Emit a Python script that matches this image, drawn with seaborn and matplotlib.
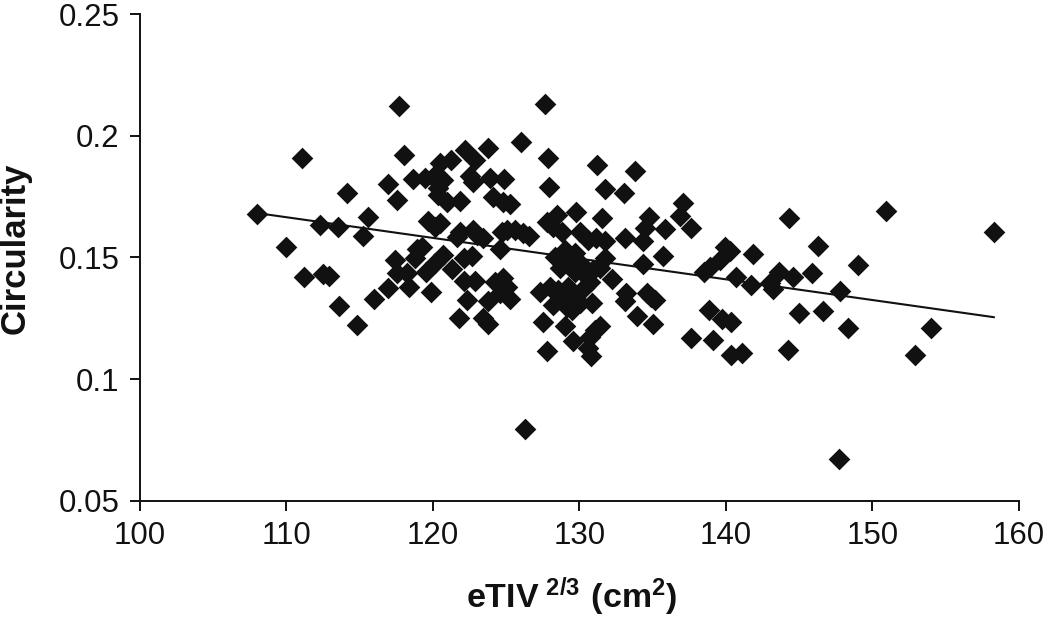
import matplotlib
matplotlib.use("Agg")
import matplotlib.pyplot as plt
import seaborn as sns
import pandas as pd

# values
etiv = [117.69, 111.05, 118.05, 126.05, 114.16, 116.94, 117.53, 118.66, 108.0, 112.28,
        113.5, 115.57, 115.25, 110.0, 111.23, 112.5, 112.93, 113.6, 114.8, 116.0,
        120.48, 121.21, 120.03, 120.71, 120.37, 119.46, 122.19, 123.78, 122.87, 122.53,
        123.9, 124.87, 122.76, 120.37, 120.94, 121.89, 124.12, 124.8, 125.3, 119.64,
        120.48, 120.14, 121.62, 121.85, 122.76, 123.44, 122.99, 124.69, 125.6, 126.58,
        124.58, 125.03, 126.17, 118.89, 119.23, 118.78, 117.41, 120.71, 120.14, 119.57,
        121.28, 122.12, 122.69, 117.53, 118.21, 116.96, 118.37, 119.87, 122.12, 122.87,
        122.3, 124.24, 124.8, 124.58, 125.26, 123.78, 125.03, 121.76, 123.44, 123.78,
        127.63, 127.88, 131.2, 133.77, 127.9, 131.74, 133.02, 137.06, 136.88, 137.59,
        144.32, 128.49, 129.79, 127.76, 128.22, 128.79, 131.52, 130.04, 130.6, 131.17,
        131.74, 133.11, 134.74, 134.47, 134.34, 135.86, 135.72, 134.31, 139.97, 140.27,
        139.59, 138.91, 138.5, 141.82, 140.66, 141.68, 143.0, 143.18, 143.64, 144.55,
        145.0, 144.23, 138.84, 139.75, 140.32, 137.61, 139.09, 140.38, 141.11, 133.9,
        135.04, 133.17, 133.11, 134.59, 135.15, 134.86, 132.22, 128.33, 129.01, 129.7,
        129.13, 128.67, 130.04, 130.27, 129.7, 130.95, 131.74, 131.4, 130.72, 130.38,
        127.31, 127.99, 128.56, 129.24, 128.22, 128.9, 129.47, 130.04, 130.83, 129.7,
        129.13, 127.51, 128.99, 129.54, 127.81, 131.4, 131.06, 130.72, 130.6, 130.77,
        126.31, 150.92, 158.27, 146.3, 145.86, 149.0, 147.77, 146.6, 148.3, 147.7,
        152.9, 154.0]
circ = [0.2121, 0.1908, 0.192, 0.1974, 0.1766, 0.18, 0.1736, 0.182, 0.1677, 0.1634,
        0.1624, 0.1665, 0.1589, 0.1541, 0.142, 0.143, 0.1425, 0.13, 0.122, 0.1328,
        0.1887, 0.1899, 0.1832, 0.1818, 0.1784, 0.1825, 0.1941, 0.1948, 0.19, 0.1835,
        0.1825, 0.1824, 0.1811, 0.1756, 0.1729, 0.1733, 0.175, 0.1729, 0.172, 0.165,
        0.164, 0.1626, 0.1585, 0.1606, 0.1613, 0.1578, 0.1592, 0.1606, 0.1613, 0.1588,
        0.1533, 0.1613, 0.1599, 0.1533, 0.1544, 0.1496, 0.1489, 0.151, 0.1476, 0.1441,
        0.1452, 0.1496, 0.1507, 0.1435, 0.1435, 0.1373, 0.138, 0.1356, 0.1403, 0.1404,
        0.1325, 0.1398, 0.1414, 0.1352, 0.1328, 0.1322, 0.138, 0.1251, 0.125, 0.1225,
        0.2129, 0.1907, 0.1881, 0.1855, 0.1791, 0.178, 0.1763, 0.1722, 0.167, 0.1619,
        0.1662, 0.1674, 0.1688, 0.1647, 0.1626, 0.1606, 0.1661, 0.1606, 0.1572, 0.1578,
        0.1569, 0.1578, 0.1667, 0.1619, 0.1569, 0.1615, 0.1507, 0.1472, 0.1544, 0.1526,
        0.1489, 0.1462, 0.1441, 0.1515, 0.1418, 0.1388, 0.1393, 0.137, 0.144, 0.1418,
        0.1273, 0.1119, 0.1284, 0.1245, 0.1236, 0.117, 0.1161, 0.1099, 0.1108, 0.1261,
        0.1225, 0.1352, 0.1322, 0.1352, 0.1325, 0.1339, 0.141, 0.1503, 0.153, 0.1517,
        0.1489, 0.1455, 0.1476, 0.1434, 0.1441, 0.1448, 0.1496, 0.1455, 0.14, 0.138,
        0.1359, 0.138, 0.1366, 0.138, 0.1304, 0.1332, 0.1284, 0.1311, 0.1311, 0.1339,
        0.1297, 0.1236, 0.1218, 0.1158, 0.1114, 0.1218, 0.1202, 0.1174, 0.1126, 0.1096,
        0.0793, 0.169, 0.1604, 0.1546, 0.1436, 0.1469, 0.1362, 0.128, 0.121, 0.067,
        0.1099, 0.121]

trend_x = [108.0, 158.3]
trend_y = [0.1682, 0.1254]

x_ticks = [100, 110, 120, 130, 140, 150, 160]
y_ticks = [0.05, 0.1, 0.15, 0.2, 0.25]
y_labels = ["0.05", "0.1", "0.15", "0.2", "0.25"]

sns.set_style("ticks")
plt.rcParams["font.family"] = ["Liberation Sans", "DejaVu Sans"]
plt.rcParams["mathtext.fontset"] = "custom"
plt.rcParams["mathtext.bf"] = "Liberation Sans:bold"
plt.rcParams["mathtext.rm"] = "Liberation Sans"

df = pd.DataFrame({"etiv": etiv, "circ": circ})

fig = plt.figure(figsize=(10.5, 6.17), dpi=100)
ax = fig.add_axes([139.7 / 1050, 1 - 500.7 / 617, (1019 - 139.7) / 1050, (500.7 - 14) / 617])

sns.lineplot(x=trend_x, y=trend_y, color="#111111", linewidth=1.5, ax=ax, zorder=1)
sns.scatterplot(data=df, x="etiv", y="circ", marker="D", s=122, color="#111111",
                linewidth=0, ax=ax, zorder=2, clip_on=False)

ax.set_xlim(100, 160)
ax.set_ylim(0.05, 0.25)
ax.set_xticks(x_ticks)
ax.set_yticks(y_ticks)
ax.set_yticklabels(y_labels)
ax.tick_params(axis="both", direction="out", length=7.5, width=1.4, labelsize=22.5,
               color="#111111", labelcolor="#111111")
ax.tick_params(axis="x", pad=7)
ax.tick_params(axis="y", pad=7)
sns.despine(ax=ax)
for s in ["left", "bottom"]:
    ax.spines[s].set_linewidth(1.4)
    ax.spines[s].set_color("#111111")

ax.set_xlabel("")
ax.set_ylabel("")
fig.text(572 / 1050, 1 - 597 / 617, r"$\mathbf{eTIV^{\ 2/3}\ (cm^{2})}$", fontsize=24.5,
         ha="center", va="center", color="#111111")
fig.text(15 / 1050, 1 - 248 / 617, "Circularity", fontsize=25, fontweight="bold",
         rotation=90, ha="center", va="center", color="#111111")

fig.savefig("out.png", dpi=100)
